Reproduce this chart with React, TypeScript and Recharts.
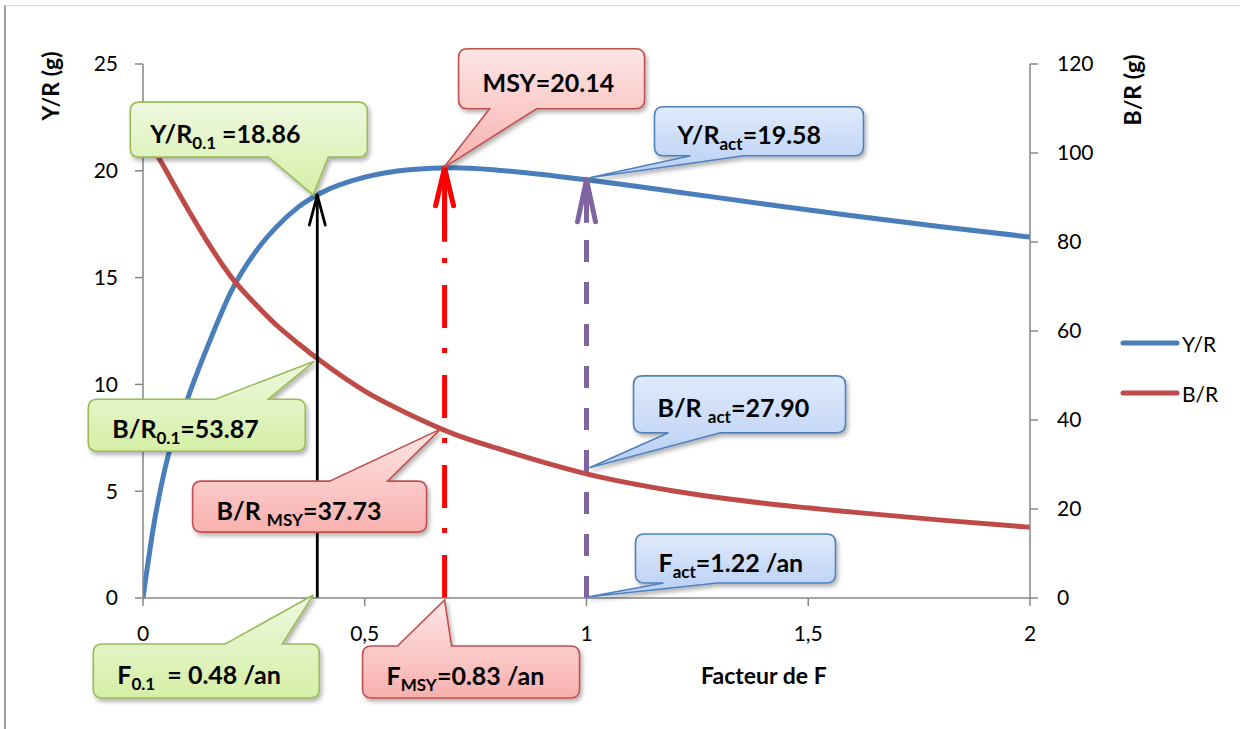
import React from 'react';
import {
  ComposedChart, Line, XAxis, YAxis, Legend, ReferenceLine, ReferenceDot, Label,
} from 'recharts';

// relative fishing-mortality factor (1 = current F)
const fFactor = [0, 0.025, 0.05, 0.1, 0.15, 0.2, 0.25, 0.3, 0.35, 0.4, 0.5, 0.6, 0.7, 0.8, 0.9, 1.0, 1.2, 1.4, 1.6, 1.8, 2.0];
// Y/R (g), left axis
const yieldPerRecruit = [0, 3.5, 6.1, 9.3, 12.0, 14.4, 16.1, 17.35, 18.3, 18.95, 19.7, 20.05, 20.14, 20.03, 19.83, 19.58, 19.02, 18.45, 17.9, 17.38, 16.9];
// B/R (g), right axis
const biomassPerRecruit = [105.5, 100.8, 96.4, 87.6, 79.3, 72.0, 66.4, 61.4, 57.2, 53.3, 46.5, 41.3, 36.9, 33.6, 30.6, 27.9, 24.0, 21.3, 19.3, 17.5, 15.9];

const xTicks = [0, 0.5, 1, 1.5, 2];
const yrTicks = [0, 5, 10, 15, 20, 25];
const brTicks = [0, 20, 40, 60, 80, 100, 120];
const seriesOrder = ['Y/R', 'B/R'];

// reference points: F0.1, FMSY, Fact (per year)
const F_ACT = 1.22;
const refF = [0.48, 0.83, 1.22];
const refYR = [18.86, 20.14, 19.58];
const refBR = [53.87, 37.73, 27.9];

const data = fFactor.map((f, i) => ({ f, yr: yieldPerRecruit[i], br: biomassPerRecruit[i] }));
const refFactor = refF.map((v) => +(v / F_ACT).toFixed(3));

const FONT = 'Lato, "Open Sans", sans-serif';
const BLUE = '#4a7ebb';
const RED = '#be4b48';
const AXIS = '#868686';

const THEMES: any = {
  green: { top: '#eef8e0', bottom: '#d5efa6', stroke: '#9bbb59' },
  red: { top: '#fde6e5', bottom: '#f8b0ae', stroke: '#c0504d' },
  blue: { top: '#e0eafb', bottom: '#b6cef5', stroke: '#4f81bd' },
};

// callout texts: [text, isSubscript]
const callouts = [
  { id: 'c1', ref: 0, axis: 'left', y: refYR[0], theme: 'green', parts: [['Y/R'], ['0.1', 1], [' =18.86']] },
  { id: 'c2', ref: 1, axis: 'left', y: refYR[1], theme: 'red', parts: [['MSY=20.14']] },
  { id: 'c3', ref: 2, axis: 'left', y: refYR[2], theme: 'blue', parts: [['Y/R'], ['act', 1], ['=19.58']] },
  { id: 'c4', ref: 0, axis: 'right', y: refBR[0], theme: 'green', parts: [['B/R'], ['0.1', 1], ['=53.87']] },
  { id: 'c5', ref: 1, axis: 'right', y: refBR[1], theme: 'red', parts: [['B/R '], ['MSY', 1], ['=37.73']] },
  { id: 'c6', ref: 2, axis: 'right', y: refBR[2], theme: 'blue', parts: [['B/R '], ['act', 1], ['=27.90']] },
  { id: 'c7', ref: 0, axis: 'left', y: 0, theme: 'green', parts: [['F'], ['0.1', 1], ['  = 0.48 /an']] },
  { id: 'c8', ref: 1, axis: 'left', y: 0, theme: 'red', parts: [['F'], ['MSY', 1], ['=0.83 /an']] },
  { id: 'c9', ref: 2, axis: 'left', y: 0, theme: 'blue', parts: [['F'], ['act', 1], ['=1.22 /an']] },
];

// box placement relative to the anchor point (pixels)
const CALLOUT_LAYOUT: any = {
  c1: { dx: -187, dy: -93, w: 237, h: 55, tail: 'bottom', base: [-49, 11], tip: [-4, 0], pad: 20 },
  c2: { dx: 14, dy: -119, w: 186, h: 60, tail: 'bottom', base: [45, 92], tip: [-1, 0], pad: 24 },
  c3: { dx: 68, dy: -73, w: 209, h: 49, tail: 'bottom', base: [104, 157], tip: [3, -2], pad: 23 },
  c4: { dx: -229, dy: 41, w: 217, h: 52, tail: 'top', base: [-102, -49], tip: [-3, 3], pad: 24 },
  c5: { dx: -252, dy: 51, w: 234, h: 51, tail: 'top', base: [-115, -57], tip: [-4, -1], pad: 24 },
  c6: { dx: 47, dy: -98, w: 212, h: 57, tail: 'bottom', base: [82, 134], tip: [3, -6], pad: 24 },
  c7: { dx: -224, dy: 46, w: 226, h: 54, tail: 'top', base: [-92, -35], tip: [-4, -3], pad: 24 },
  c8: { dx: -82, dy: 48, w: 217, h: 52, tail: 'top', base: [-47, 7], tip: [0, 2], pad: 24 },
  c9: { dx: 49, dy: -64, w: 200, h: 49, tail: 'bottom', base: [77, 131], tip: [1, -1], pad: 23 },
};

const ARROWS = [
  { color: '#000000', width: 2.8, dash: undefined, hw: 8, hl: 30, shaft: 0 },
  { color: '#ff0000', width: 5, dash: '43 22 5 20', hw: 9, hl: 38, shaft: 74 },
  { color: '#8064a2', width: 5, dash: '22 20', hw: 9, hl: 42, shaft: 43 },
];

function arrowShape(i: number) {
  const s = ARROWS[i];
  return (props: any) => {
    const { x1, y1, x2, y2 } = props;
    const x = x1;
    const bottom = Math.max(y1, y2);
    const tip = Math.min(y1, y2);
    return (
      <g>
        <line x1={x} y1={bottom} x2={x2} y2={tip} stroke={s.color} strokeWidth={s.width} strokeDasharray={s.dash} />
        {s.shaft > 0 && <line x1={x} y1={tip + 2} x2={x} y2={tip + s.shaft} stroke={s.color} strokeWidth={s.width} />}
        <polyline
          points={`${x - s.hw},${tip + s.hl} ${x},${tip} ${x + s.hw},${tip + s.hl}`}
          fill="none" stroke={s.color} strokeWidth={s.width} strokeLinejoin="round" strokeLinecap="round"
        />
      </g>
    );
  };
}

function calloutShape(c: any) {
  const L = CALLOUT_LAYOUT[c.id];
  const th = THEMES[c.theme];
  return (props: any) => {
    const { cx, cy } = props;
    if (cx == null || cy == null) return null;
    const x = cx + L.dx, y = cy + L.dy, w = L.w, h = L.h, r = 9;
    const px = cx + L.tip[0], py = cy + L.tip[1];
    const b1 = cx + L.base[0], b2 = cx + L.base[1];
    const right = `H${x + w - r} Q${x + w},${y} ${x + w},${y + r} V${y + h - r} Q${x + w},${y + h} ${x + w - r},${y + h}`;
    const left = `H${x + r} Q${x},${y + h} ${x},${y + h - r} V${y + r} Q${x},${y} ${x + r},${y}`;
    const d = L.tail === 'bottom'
      ? `M${x + r},${y} ${right} H${b2} L${px},${py} L${b1},${y + h} ${left} Z`
      : `M${x + r},${y} H${b1} L${px},${py} L${b2},${y} ${right} ${left} Z`;
    const gid = `grad-${c.id}`;
    const fid = `shadow-${c.id}`;
    return (
      <g>
        <defs>
          <linearGradient id={gid} x1="0" y1="0" x2="0" y2="1">
            <stop offset="0%" stopColor={th.top} />
            <stop offset="100%" stopColor={th.bottom} />
          </linearGradient>
          <filter id={fid} x="-20%" y="-30%" width="140%" height="170%">
            <feDropShadow dx="2" dy="3" stdDeviation="2" floodColor="#000" floodOpacity="0.3" />
          </filter>
        </defs>
        <path d={d} fill={`url(#${gid})`} stroke={th.stroke} strokeWidth={1.6} filter={`url(#${fid})`} />
        <text x={x + L.pad} y={y + h / 2 + 13} fontFamily={FONT} fontWeight="bold" fontSize={25} fill="#000">
          {c.parts.map((p: any, k: number) => {
            const sub = p[1] === 1;
            const prevSub = k > 0 && c.parts[k - 1][1] === 1;
            return (
              <tspan key={k} fontSize={sub ? 17 : 25} dy={sub ? 6 : prevSub ? -6 : 0} style={{ whiteSpace: 'pre' }}>
                {p[0]}
              </tspan>
            );
          })}
        </text>
      </g>
    );
  };
}

const renderLegend = (props: any) => {
  const items = [...(props.payload || [])].sort(
    (a: any, b: any) => seriesOrder.indexOf(a.value) - seriesOrder.indexOf(b.value),
  );
  return (
    <div style={{ fontFamily: FONT, fontSize: 21, color: '#000' }}>
      {items.map((p: any) => (
        <div key={p.value} style={{ display: 'flex', alignItems: 'center', height: 50 }}>
          <svg width={60} height={10}>
            <line x1={3} y1={5} x2={57} y2={5} stroke={p.color} strokeWidth={5} strokeLinecap="round" />
          </svg>
          <span style={{ marginLeft: 2 }}>{p.value}</span>
        </div>
      ))}
    </div>
  );
};

const tickStyle = { fontFamily: FONT, fontSize: 21, fill: '#000' };

const axisTitle = (text: string, dx: number, dy: number, rotate: boolean) => (p: any) => {
  const vb = p.viewBox;
  const cx = vb.x + dx, cy = vb.y + dy;
  return (
    <text x={cx} y={cy} transform={rotate ? `rotate(-90 ${cx} ${cy})` : undefined} textAnchor="middle"
      dominantBaseline="central" fontFamily={FONT} fontWeight="bold" fontSize={23} fill="#000">{text}</text>
  );
};

export default function App() {
  return (
    <div style={{ position: 'absolute', left: 0, top: 0, width: 1240, height: 729, background: '#fff' }}>
      <div
        style={{
          position: 'absolute', left: 4, top: 5, width: 1236, height: 724,
          borderLeft: '2px solid #a0a0a0', borderTop: '1px solid #d9d9d9', boxSizing: 'border-box',
        }}
      />
      <ComposedChart width={1240} height={729} data={data} margin={{ top: 64, right: 20, bottom: 71, left: 63 }}>
        <XAxis
          dataKey="f" type="number" domain={[0, 2]} ticks={xTicks} allowDataOverflow
          tickFormatter={(v: number) => String(v).replace('.', ',')}
          stroke={AXIS} strokeWidth={1.5} tickSize={8} tickMargin={20} tick={tickStyle} height={60}
        >
          <Label content={(p: any) => axisTitle('Facteur de F', p.viewBox.width * 0.7, 77, false)(p)} />
        </XAxis>
        <YAxis
          yAxisId="left" orientation="left" domain={[0, 25]} ticks={yrTicks} width={80}
          stroke={AXIS} strokeWidth={1.5} tickSize={8} tickMargin={17} tick={tickStyle}
        >
          <Label content={axisTitle('Y/R (g)', -13, 22, true)} />
        </YAxis>
        <YAxis
          yAxisId="right" orientation="right" domain={[0, 120]} ticks={brTicks} width={80}
          stroke={AXIS} strokeWidth={1.5} tickSize={8} tickMargin={19} tick={tickStyle}
        >
          <Label content={axisTitle('B/R (g)', 102, 26, true)} />
        </YAxis>
        <Legend
          layout="vertical" align="right" verticalAlign="middle" content={renderLegend}
          wrapperStyle={{ left: 1120, top: 318, width: 110 }}
        />
        <Line yAxisId="left" dataKey="yr" name="Y/R" type="monotone" stroke={BLUE} strokeWidth={5} dot={false} isAnimationActive={false} />
        <Line yAxisId="right" dataKey="br" name="B/R" type="monotone" stroke={RED} strokeWidth={5} dot={false} isAnimationActive={false} />
        {refFactor.map((f, i) => (
          <ReferenceLine
            key={`arrow-${i}`} yAxisId="left" ifOverflow="visible"
            segment={[{ x: f, y: 0 }, { x: f, y: refYR[i] }]}
            shape={arrowShape(i)}
          />
        ))}
        {callouts.map((c) => (
          <ReferenceDot
            key={c.id} yAxisId={c.axis} x={refFactor[c.ref]} y={c.y} ifOverflow="visible"
            shape={calloutShape(c)}
          />
        ))}
      </ComposedChart>
    </div>
  );
}
